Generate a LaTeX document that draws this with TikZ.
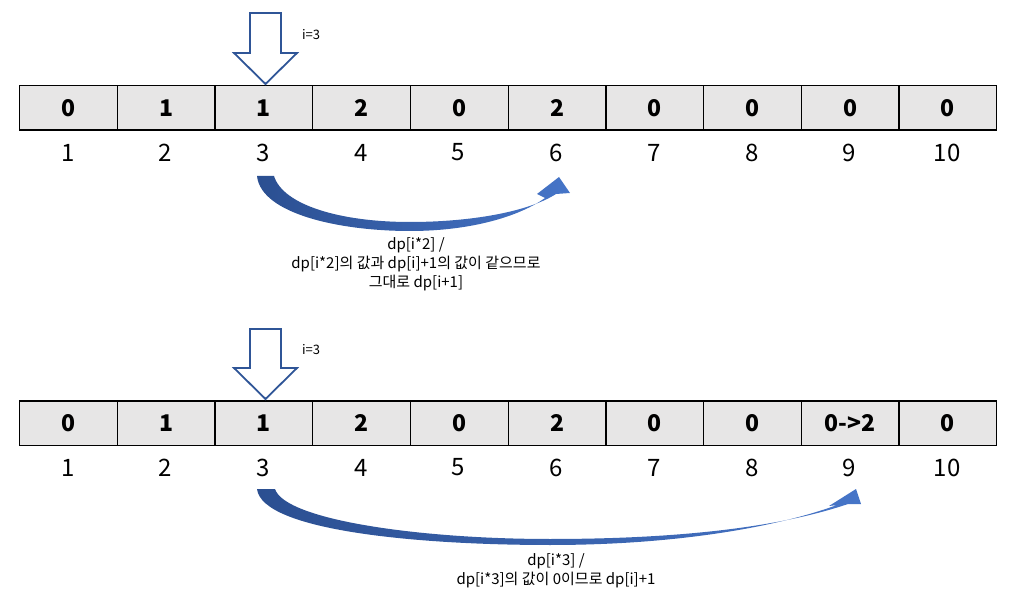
\documentclass[tikz,border=0pt]{standalone}
\usepackage{fontspec}
\setmainfont{Noto Sans CJK KR}
\definecolor{cellgray}{HTML}{E7E6E6}
\definecolor{arrowline}{HTML}{2F5597}
\definecolor{arrowdark}{HTML}{2B4F91}
\definecolor{arrowlight}{HTML}{4675C8}
\begin{document}
\begin{tikzpicture}[x=1pt,y=-1pt,
  cell/.style={draw=black, line width=1.3pt, fill=cellgray, minimum width=97.7pt, minimum height=44.5pt, inner sep=0pt, anchor=north west, font=\fontsize{23}{25}\selectfont\bfseries},
  idx/.style={font=\fontsize{24}{26}\selectfont, inner sep=0pt},
  blockarrow/.style={draw=arrowline, line width=1.8pt, fill=white, line join=miter},
  curvearrow/.style={left color=arrowdark, right color=arrowlight},
  small/.style={font=\fontsize{13}{15}\selectfont, inner sep=0pt},
  lbl/.style={font=\fontsize{15}{19}\selectfont, align=center, inner sep=0pt}]
\useasboundingbox (0,0) rectangle (1023,609);
% top row
\foreach \v [count=\i] in {0,1,1,2,0,2,0,0,0,0} {
  \node[cell] (t\i) at ({19+(\i-1)*97.7},85) {\v};
  \node[idx] (ti\i) at ({19+(\i-0.5)*97.7},152.5) {\i};
}
% bottom row
\foreach \v [count=\i] in {0,1,1,2,0,2,0,0,0->2,0} {
  \node[cell] (b\i) at ({19+(\i-1)*97.7},400.5) {\v};
  \node[idx] (bi\i) at ({19+(\i-0.5)*97.7},467.5) {\i};
}
% block arrows
\draw[blockarrow] (250,13) -- (281,13) -- (281,53) -- (297,53) -- (265.5,84) -- (234,53) -- (250,53) -- cycle;
\node[small] (i1) at (311,35) {i=3};
\draw[blockarrow] (250,329) -- (281,329) -- (281,368) -- (297,368) -- (265.5,399) -- (234,368) -- (250,368) -- cycle;
\node[small] (i2) at (311,350) {i=3};
% curved arrows
\shade[curvearrow] (257,176) .. controls (261,214) and (340,231) .. (410,231)
  .. controls (472,231) and (520,216) .. (545,198) -- (537,194) -- (559,177) -- (570,193) -- (556,194)
  .. controls (528,212) and (470,222) .. (410,222)
  .. controls (340,222) and (283,205) .. (274,176) -- cycle;
\shade[curvearrow] (257,489) .. controls (262,531) and (420,545) .. (550,545)
  .. controls (680,545) and (780,526) .. (837,505) -- (829,506) -- (856,489) -- (861,504) -- (848,504)
  .. controls (780,527) and (680,539) .. (550,539)
  .. controls (420,539) and (285,520) .. (275,489) -- cycle;
% labels
\node[lbl] (l1) at (416,264) {dp[i*2] /\\dp[i*2]의 값과 dp[i]+1의 값이 같으므로\\그대로 dp[i+1]};
\node[lbl] (l2) at (556,571) {dp[i*3] /\\dp[i*3]의 값이 0이므로 dp[i]+1};
\end{tikzpicture}
\end{document}
